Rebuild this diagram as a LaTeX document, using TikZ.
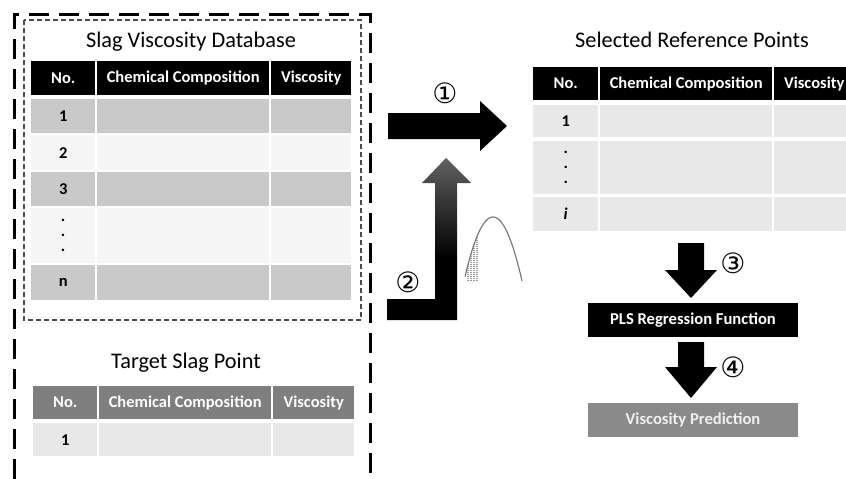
\documentclass[tikz,border=0pt]{standalone}
\usepackage{fontspec}
\setmainfont{Carlito}
\newfontfamily\symfont{DejaVu Sans}

\definecolor{rowdark}{HTML}{C9C9C9}
\definecolor{rowlight}{HTML}{F5F5F5}
\definecolor{rowpale}{HTML}{E8E8E8}
\definecolor{hdrgray}{HTML}{7F7F7F}
\definecolor{predgray}{HTML}{8A8A8A}

\tikzset{
  cell/.style={anchor=north west, inner sep=0pt, align=center,
    font=\bfseries\fontsize{16.5}{16}\selectfont},
  hdrblack/.style={cell, fill=black, text=white},
  hdrgrey/.style={cell, fill=hdrgray, text=white},
  darkrow/.style={cell, fill=rowdark},
  lightrow/.style={cell, fill=rowlight},
  palerow/.style={cell, fill=rowpale},
  tabletitle/.style={inner sep=0pt, font=\fontsize{22.3}{22}\selectfont},
  stepnum/.style={inner sep=0pt, font=\symfont\fontsize{28}{28}\selectfont},
  bar/.style={inner sep=0pt, minimum width=210pt, minimum height=34pt,
    font=\bfseries\fontsize{16.6}{16}\selectfont},
  bigarrow/.style={fill=black},
  curve/.style={draw=black!55, line width=1.1pt},
}

% table cell: name, x1, y1, x2, y2, style, text
\newcommand\tcell[7]{%
  \pgfmathsetlengthmacro\tcw{#4-#2}%
  \pgfmathsetlengthmacro\tch{#5-#3}%
  \node[#6, minimum width=\tcw, minimum height=\tch] (#1) at (#2,#3) {#7};}

% downward block arrow: centre x, shaft top, head base, tip
\newcommand\blockdown[4]{%
  \fill[bigarrow] (#1-13,#2) -- (#1+13,#2) -- (#1+13,#3) -- (#1+26,#3)
    -- (#1,#4) -- (#1-26,#3) -- (#1-13,#3) -- cycle;}

\pgfdeclareverticalshading{upfade}{100bp}{color(0bp)=(black); color(25bp)=(black);
  color(44bp)=(black); color(75bp)=(black!62); color(100bp)=(black!62)}

\newcommand\dotcol{.\\[-1pt].\\[-1pt].}
% bell-shaped weight curve
\newcommand\bell[1]{281-64*(1-((#1-493)/29)^2)}

\begin{document}
\begin{tikzpicture}[x=1pt, y=-1pt]
\useasboundingbox (0,0) rectangle (846,479);
\clip (0,0) rectangle (846,479);

% outer frame (open at the bottom edge)
\draw[line width=3pt, dash pattern=on 20pt off 10pt] (14,479) -- (14,14) -- (370,14) -- (370,479);
% inner frame round the database
\draw[line width=1.5pt, black!70, dash pattern=on 5pt off 3pt] (24,20) rectangle (361,320);

% ---- Slag Viscosity Database ----
\node[tabletitle] (dbtitle) at (191,42) {Slag Viscosity Database};
\tcell{dbh1}{31}{61}{95}{95}{hdrblack}{No.}
\tcell{dbh2}{97}{61}{269}{95}{hdrblack}{Chemical Composition}
\tcell{dbh3}{271}{61}{351}{95}{hdrblack}{Viscosity}
\tcell{dba1}{31}{99}{95}{133}{darkrow}{1}
\tcell{dba2}{97}{99}{269}{133}{darkrow}{}
\tcell{dba3}{271}{99}{351}{133}{darkrow}{}
\tcell{dbb1}{31}{135}{95}{170}{lightrow}{2}
\tcell{dbb2}{97}{135}{269}{170}{lightrow}{}
\tcell{dbb3}{271}{135}{351}{170}{lightrow}{}
\tcell{dbc1}{31}{172}{95}{206}{darkrow}{3}
\tcell{dbc2}{97}{172}{269}{206}{darkrow}{}
\tcell{dbc3}{271}{172}{351}{206}{darkrow}{}
\tcell{dbd1}{31}{208}{95}{263}{lightrow}{\dotcol}
\tcell{dbd2}{97}{208}{269}{263}{lightrow}{}
\tcell{dbd3}{271}{208}{351}{263}{lightrow}{}
\tcell{dbe1}{31}{265}{95}{300}{darkrow}{n}
\tcell{dbe2}{97}{265}{269}{300}{darkrow}{}
\tcell{dbe3}{271}{265}{351}{300}{darkrow}{}

% ---- Target Slag Point ----
\node[tabletitle] (tgtitle) at (186,363) {Target Slag Point};
\tcell{tgh1}{33}{386}{97}{419}{hdrgrey}{No.}
\tcell{tgh2}{99}{386}{271}{419}{hdrgrey}{Chemical Composition}
\tcell{tgh3}{273}{386}{354}{419}{hdrgrey}{Viscosity}
\tcell{tga1}{33}{423}{97}{456}{palerow}{1}
\tcell{tga2}{99}{423}{271}{456}{palerow}{}
\tcell{tga3}{273}{423}{354}{456}{palerow}{}

% ---- Selected Reference Points ----
\node[tabletitle] (srtitle) at (692,40) {Selected Reference Points};
\tcell{srh1}{533}{67}{598}{100}{hdrblack}{No.}
\tcell{srh2}{600}{67}{772}{100}{hdrblack}{Chemical Composition}
\tcell{srh3}{774}{67}{854}{100}{hdrblack}{Viscosity}
\tcell{sra1}{533}{105}{598}{137}{palerow}{1}
\tcell{sra2}{600}{105}{772}{137}{palerow}{}
\tcell{sra3}{774}{105}{854}{137}{palerow}{}
\tcell{srb1}{533}{141}{598}{194}{palerow}{\dotcol}
\tcell{srb2}{600}{141}{772}{194}{palerow}{}
\tcell{srb3}{774}{141}{854}{194}{palerow}{}
\tcell{src1}{533}{197}{598}{231}{palerow}{\textit{i}}
\tcell{src2}{600}{197}{772}{231}{palerow}{}
\tcell{src3}{774}{197}{854}{231}{palerow}{}

% ---- step 1: database to selected points ----
\fill[bigarrow] (388,113) -- (480,113) -- (480,101) -- (507,126) -- (480,151) -- (480,139) -- (388,139) -- cycle;
\node[stepnum] (s1) at (445,93) {①};

% ---- step 2: target point, weighted by distance ----
\shade[shading=upfade] (387,299) -- (435,299) -- (435,183) -- (422,183) -- (446,158)
  -- (471,183) -- (457,183) -- (457,320) -- (387,320) -- cycle;
\node[stepnum] (s2) at (408,282) {②};

% bell curve with its hatched tail
\foreach \xx in {467,468.5,...,478}
  \draw[black!40, line width=0.4pt, dash pattern=on 0.7pt off 1.3pt]
    (\xx,281) -- (\xx,{\bell{\xx}});
\draw[curve, domain=465:522, samples=70] plot (\x, {\bell{\x}});

% ---- regression and prediction ----
\node[bar, fill=black, text=white] (pls) at (693,320) {PLS Regression Function};
\node[bar, fill=predgray, text=white!94!black] (pred) at (693,420) {Viscosity Prediction};

\blockdown{691}{243}{270}{298}
\node[stepnum] (s3) at (733,263) {③};
\blockdown{691}{342}{367}{398}
\node[stepnum] (s4) at (733,367) {④};
\end{tikzpicture}
\end{document}
